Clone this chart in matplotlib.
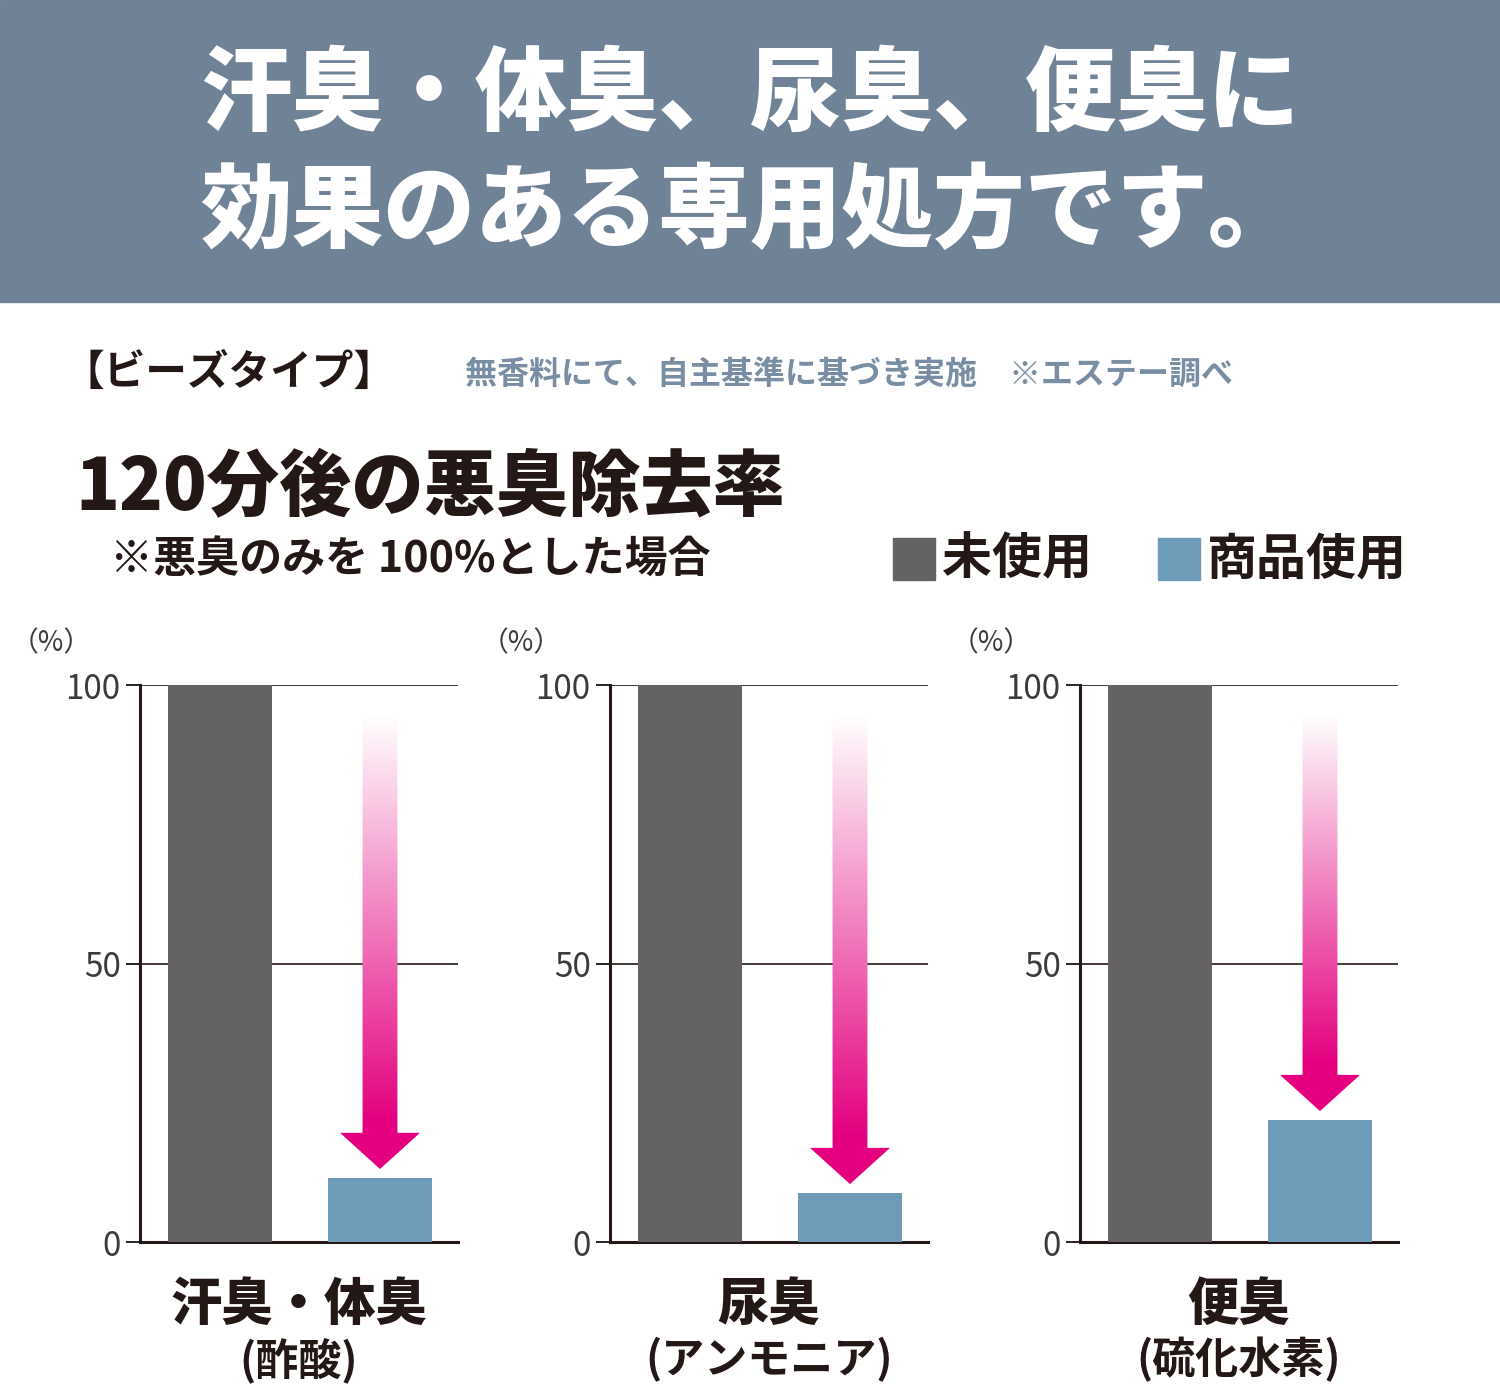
import matplotlib
matplotlib.use("Agg")
import matplotlib.pyplot as plt
import numpy as np
from matplotlib.patches import Polygon, Rectangle
from matplotlib.colors import LinearSegmentedColormap

plt.rcParams["font.family"] = "Noto Sans CJK JP"

categories = ["汗臭・体臭", "尿臭", "便臭"]
subnames = ["(酢酸)", "(アンモニア)", "(硫化水素)"]
unused = [100, 100, 100]
used = [11.5, 8.8, 21.9]
ticks = [0, 50, 100]

W, H = 1500, 1390
fig = plt.figure(figsize=(15, 13.9), dpi=100)
fig.patch.set_facecolor("white")

def fx(px): return px / W
def fy(py): return 1 - py / H

fig.patches.append(Rectangle((0, fy(302)), 1, 302 / H, transform=fig.transFigure,
                             color="#6f8296", zorder=0))
fig.text(0.5, fy(95), "汗臭・体臭、尿臭、便臭に", color="white", fontsize=66,
         fontweight="black", ha="center", va="center")
fig.text(0.5, fy(212), "効果のある専用処方です。", color="white", fontsize=66,
         fontweight="black", ha="center", va="center")

fig.text(fx(62), fy(373), "【ビーズタイプ】", fontsize=30, fontweight="bold",
         color="#231815", ha="left", va="center")
fig.text(fx(465), fy(375), "無香料にて、自主基準に基づき実施　※エステー調べ", fontsize=23,
         fontweight="bold", color="#7a8ea3", ha="left", va="center")
fig.text(fx(75), fy(488), "120分後の悪臭除去率", fontsize=52, fontweight="black",
         color="#231815", ha="left", va="center")
fig.text(fx(110), fy(560), "※悪臭のみを 100%とした場合", fontsize=31, fontweight="bold",
         color="#231815", ha="left", va="center")
fig.patches.append(Rectangle((fx(893), fy(580)), fx(42), 42 / H, transform=fig.transFigure,
                             color="#656263"))
fig.text(fx(942), fy(560), "未使用", fontsize=36, fontweight="bold", color="#231815",
         ha="left", va="center")
fig.patches.append(Rectangle((fx(1158), fy(580)), fx(42), 42 / H, transform=fig.transFigure,
                             color="#6e9bb7"))
fig.text(fx(1207), fy(560), "商品使用", fontsize=36, fontweight="bold", color="#231815",
         ha="left", va="center")

cmap = LinearSegmentedColormap.from_list("g", ["#e4007f", "#ffffff"])
lefts = [140, 610, 1080]
for i, lx in enumerate(lefts):
    ax = fig.add_axes([fx(lx), fy(1242), 318 / W, 557 / H])
    ax.set_xlim(-0.5, 1.4875)
    ax.set_ylim(0, 100)
    ax.bar([0], [unused[i]], width=0.65, color="#656263", zorder=3)
    ax.bar([1], [used[i]], width=0.65, color="#6e9bb7", zorder=3)
    for t in [50, 100]:
        ax.axhline(t, color="#231815", lw=1.2, zorder=1)
    for s in ["top", "right"]:
        ax.spines[s].set_visible(False)
    for s in ["left", "bottom"]:
        ax.spines[s].set_linewidth(2.2)
        ax.spines[s].set_color("#231815")
    ax.set_xticks([])
    ax.set_yticks(ticks)
    ax.set_yticklabels([str(t) for t in ticks], fontsize=24, color="#3e3a39")
    ax.tick_params(axis="y", length=10, width=1.2, pad=4)
    ax.text(-0.28, 1.075, "（%）", transform=ax.transAxes, fontsize=20, color="#3e3a39",
            ha="center", va="center")
    # gradient arrow
    tip = used[i] + 1.6
    base = tip + 6.5
    top = 94.6
    sw, hw = 0.109, 0.25
    poly = Polygon([(1 - sw, top), (1 + sw, top), (1 + sw, base), (1 + hw, base),
                    (1, tip), (1 - hw, base), (1 - sw, base)], closed=True,
                   facecolor="none", edgecolor="none")
    ax.add_patch(poly)
    grad = np.linspace(0, 1, 256).reshape(-1, 1)
    # 0 at bottom (magenta below ~head base) -> 1 at top (white)
    yy = np.linspace(tip, top, 256)
    vals = np.clip((yy - base - 2) / (top - base - 2), 0, 1).reshape(-1, 1)
    im = ax.imshow(vals, cmap=cmap, vmin=0, vmax=1, origin="lower", aspect="auto",
                   extent=[1 - hw, 1 + hw, tip, top], zorder=4)
    im.set_clip_path(poly)
    ax.set_xlim(-0.5, 1.4875)
    ax.set_ylim(0, 100)
    cx = lx + 159
    fig.text(fx(cx), fy(1305), categories[i], fontsize=37, fontweight="black",
             color="#231815", ha="center", va="center")
    fig.text(fx(cx), fy(1360), subnames[i], fontsize=31, fontweight="bold",
             color="#231815", ha="center", va="center")

fig.savefig("out.png", dpi=100, facecolor="white")
